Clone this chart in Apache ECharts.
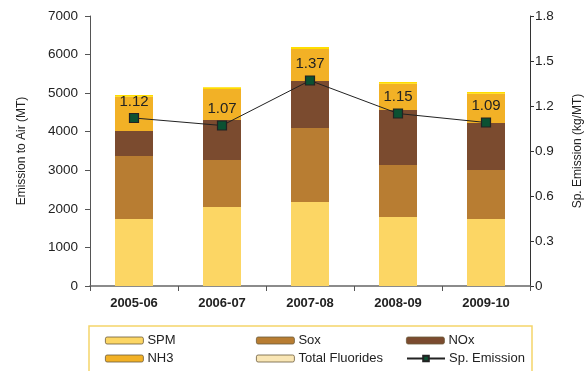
<!DOCTYPE html>
<html>
<head>
<meta charset="utf-8">
<script src="https://cdn.jsdelivr.net/npm/echarts@6/dist/echarts.min.js"></script>
<style>
html,body{margin:0;padding:0;background:#fff;}
#c{width:587px;height:371px;}
</style>
</head>
<body>
<div id="c"></div>
<script>
const categories = ['2005-06', '2006-07', '2007-08', '2008-09', '2009-10'];
const spm = [1737, 2048, 2178, 1789, 1737];
const sox = [1633, 1219, 1918, 1348, 1270];
const nox = [649, 1037, 1219, 1426, 1219];
const nh3 = [889, 803, 829, 683, 761];
const fluorides = [44, 45, 52, 43, 43];
const spEmission = [1.12, 1.07, 1.37, 1.15, 1.09];
const leftTicks = [0, 1000, 2000, 3000, 4000, 5000, 6000, 7000];
const rightTicks = [0, 0.3, 0.6, 0.9, 1.2, 1.5, 1.8];

const FONT = '"Liberation Sans", Arial, Helvetica, sans-serif';
const colors = {
  spm: '#FCD664', sox: '#B87D32', nox: '#7B4B2F', nh3: '#F2B126',
  fl: '#FFDD00', flLegend: '#F9E6B5', line: '#222222', marker: '#0B5132'
};

const chart = echarts.init(document.getElementById('c'), null, {renderer: 'canvas'});

function barSeries(name, data, color) {
  return {
    name: name, type: 'bar', stack: 'total', data: data, barWidth: 38,
    itemStyle: {color: color}, emphasis: {disabled: true}
  };
}

function legendAt(name, left, top, isBar, legendColor) {
  const item = {name: name};
  if (isBar) {
    item.itemStyle = {borderColor: '#6b5a3a', borderWidth: 0.8};
    if (legendColor) item.itemStyle.color = legendColor;
  }
  return {
    data: [item], left: left, top: top, itemWidth: 38, itemHeight: 7,
    itemGap: 4, padding: 0,
    textStyle: {fontFamily: FONT, fontSize: 13, color: '#222', padding: [0, 0, 0, -1]},
    selectedMode: false
  };
}

const option = {
  animation: false,
  backgroundColor: '#fff',
  grid: {left: 90, right: 57, top: 16, bottom: 85, containLabel: false, outerBoundsMode: 'none'},
  xAxis: {
    type: 'category', data: categories,
    axisLine: {lineStyle: {color: '#666', width: 1.5}},
    axisTick: {show: true, length: 5, lineStyle: {color: '#555'}},
    axisLabel: {fontFamily: FONT, fontSize: 13, fontWeight: 'bold', color: '#222', margin: 11}
  },
  yAxis: [
    {
      type: 'value', min: leftTicks[0], max: leftTicks[leftTicks.length - 1], interval: 1000,
      name: 'Emission to Air (MT)', nameLocation: 'middle', nameGap: 62, nameRotate: 90,
      nameTextStyle: {fontFamily: FONT, fontSize: 12, color: '#222'},
      axisLine: {show: true, lineStyle: {color: '#555', width: 1}},
      axisTick: {show: true, length: 5, lineStyle: {color: '#555'}},
      axisLabel: {fontFamily: FONT, fontSize: 13.5, color: '#222', margin: 12,
        formatter: function (v) { return String(v); }},
      splitLine: {show: false}
    },
    {
      type: 'value', min: rightTicks[0], max: rightTicks[rightTicks.length - 1], interval: 0.3,
      name: 'Sp. Emission (kg/MT)', nameLocation: 'middle', nameGap: 42, nameRotate: 90,
      nameTextStyle: {fontFamily: FONT, fontSize: 12, color: '#222'},
      axisLine: {show: true, lineStyle: {color: '#333', width: 1}},
      axisTick: {show: true, length: 4, lineStyle: {color: '#333'}},
      axisLabel: {fontFamily: FONT, fontSize: 13.5, color: '#222', margin: 5,
        formatter: function (v) { return String(Math.round(v * 10) / 10); }},
      splitLine: {show: false}
    }
  ],
  legend: [
    legendAt('SPM', 105, 334, true),
    legendAt('Sox', 256, 334, true),
    legendAt('NOx', 406, 334, true),
    legendAt('NH3', 105, 352, true),
    legendAt('Total Fluorides', 256, 352, true, colors.flLegend),
    legendAt('Sp. Emission', 406, 352, false)
  ],
  graphic: [{
    type: 'rect', shape: {x: 89, y: 326, width: 443, height: 60},
    style: {fill: 'none', stroke: '#F5D56A', lineWidth: 1.5}, silent: true, z: 0
  }],
  series: [
    barSeries('SPM', spm, colors.spm),
    barSeries('Sox', sox, colors.sox),
    barSeries('NOx', nox, colors.nox),
    barSeries('NH3', nh3, colors.nh3),
    barSeries('Total Fluorides', fluorides, colors.fl),
    {
      name: 'Sp. Emission', type: 'line', yAxisIndex: 1, data: spEmission,
      symbol: 'rect', symbolSize: 9,
      lineStyle: {color: colors.line, width: 1},
      itemStyle: {color: colors.marker, borderColor: '#222', borderWidth: 1.2},
      label: {show: true, position: 'top', distance: 4, fontFamily: FONT, fontSize: 15,
        color: '#222', formatter: function (p) { return p.value.toFixed(2); }},
      z: 5, emphasis: {disabled: true}
    }
  ]
};
chart.setOption(option);
</script>
</body>
</html>
